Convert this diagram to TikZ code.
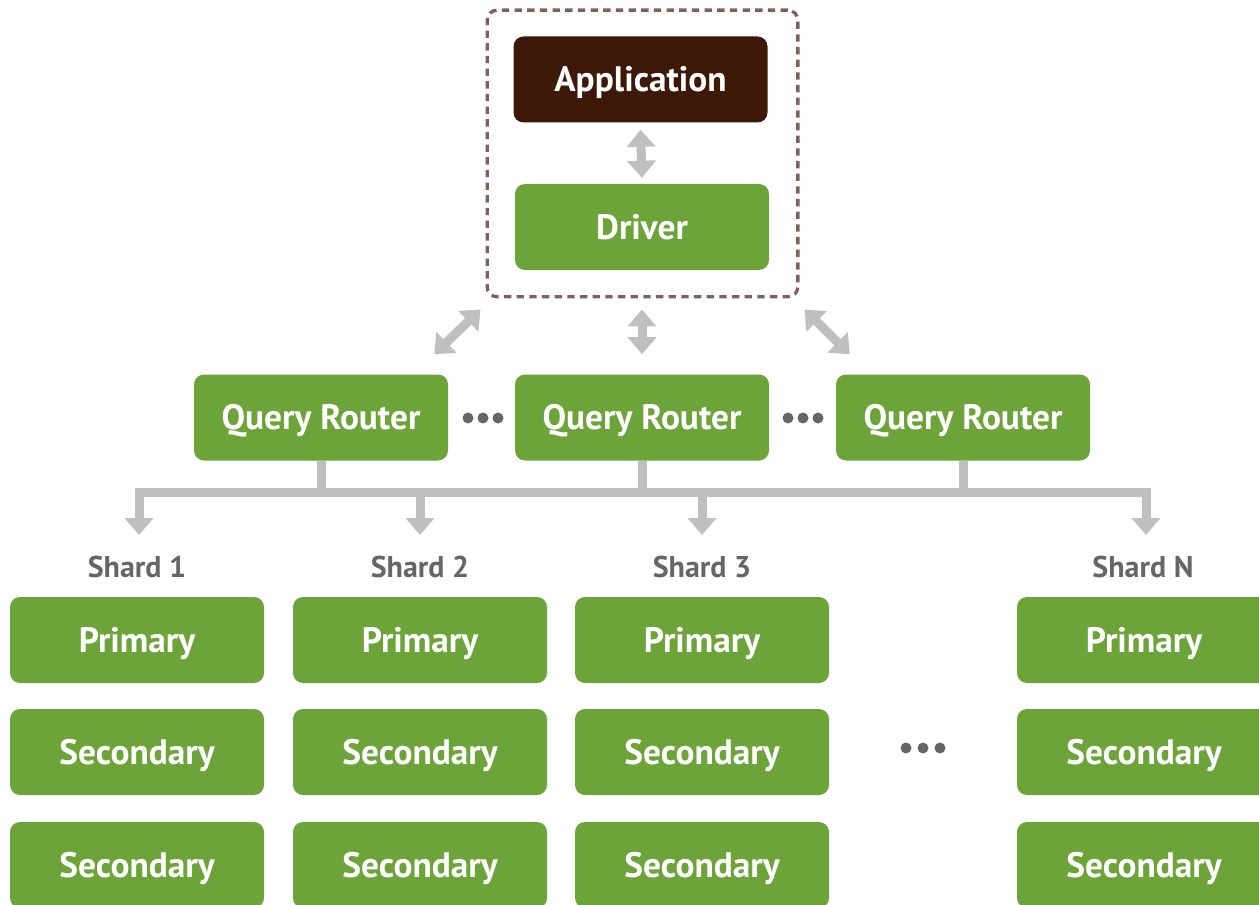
\documentclass[tikz,border=0pt]{standalone}
\usepackage{fontspec}
\setmainfont{PT Sans}
\usetikzlibrary{arrows.meta,calc}
\definecolor{grn}{HTML}{6CA43A}
\definecolor{brn}{HTML}{3D1806}
\definecolor{agray}{HTML}{C0BEC0}
\definecolor{dgray}{HTML}{666666}
\definecolor{dash}{HTML}{80615A}
\tikzset{
  box/.style={fill=grn, text=white, rounded corners=7.5pt, minimum width=190.5pt, minimum height=64.5pt, inner sep=0pt, text height=18.5pt, text depth=0pt, font=\fontsize{26.5}{30}\selectfont\bfseries},
  appbox/.style={box, fill=brn},
  grpbox/.style={draw=dash, line width=2.5pt, dash pattern=on 5.5pt off 4pt, rounded corners=7.5pt, minimum width=233pt, minimum height=215pt, inner sep=0pt},
  shardlbl/.style={text=dgray, inner sep=0pt, text height=15.75pt, text depth=0pt, font=\fontsize{22.5}{26}\selectfont\bfseries},
  tip/.tip={Triangle[width=21pt,length=12.75pt]},
  gar/.style={draw=agray, line width=6.75pt, tip-tip},
  bar/.style={draw=agray, line width=6.75pt},
  dot/.style={fill=dgray}
}
\begin{document}
\begin{tikzpicture}[x=0.75pt,y=-0.75pt]
\useasboundingbox (0,0) rectangle (1259,905);
\clip (0,0) rectangle (1259,905);
% group
\node[grpbox] (grp) at (642.5,153.5) {};
\node[appbox] (app) at (640.5,79.5) {Application};
\node[box] (drv) at (642,227) {Driver};
% routers
\node[box] (qr1) at (321,417.5) {Query Router};
\node[box] (qr2) at (642,417.5) {Query Router};
\node[box] (qr3) at (963,417.5) {Query Router};
% shard labels
\node[shardlbl] (l1) at (137,567) {Shard 1};
\node[shardlbl] (l2) at (420,567) {Shard 2};
\node[shardlbl] (l3) at (702,567) {Shard 3};
\node[shardlbl] (l4) at (1143,567) {Shard N};
% shard boxes
\foreach \c/\x in {1/137,2/420,3/702,4/1144}{
  \node[box] (p\c) at (\x,640) {Primary};
  \node[box] (sa\c) at (\x,752) {Secondary};
  \node[box] (sb\c) at (\x,865) {Secondary};
}
% arrows
\draw[gar] ($(app.south)+(0,7)$) -- ($(drv.north)+(0,-6)$);
\draw[gar] ($(grp.south west)+(-5,11)$) -- ($(qr1.north east)+(-14,-20)$);
\draw[gar] ($(qr2.north |- grp.south)+(0,11)$) -- ($(qr2.north)+(0,-20)$);
\draw[gar] ($(grp.south east)+(5,11)$) -- ($(qr3.north west)+(14,-20)$);
% tree
\coordinate (bus) at (0,492);
\draw[bar] (qr1.south) -- (qr1.south |- bus);
\draw[bar] (qr2.south) -- (qr2.south |- bus);
\draw[bar] (qr3.south) -- (qr3.south |- bus);
\draw[gar] ($(l1.center)+(2,-32)$) -- ($(l1.center |- bus)+(2,0)$) -- ($(l4.center |- bus)+(3,0)$) -- ($(l4.center)+(3,-32)$);
\draw[bar, -tip] (l2.center |- bus) -- ($(l2.center)+(0,-32)$);
\draw[bar, -tip] (l3.center |- bus) -- ($(l3.center)+(0,-32)$);
% ellipses
\foreach \x in {468,483,498}{\fill[dot] (\x,418) circle (5.5);}
\foreach \x in {788,803,818}{\fill[dot] (\x,418) circle (5.5);}
\foreach \x in {906,923,940}{\fill[dot] (\x,748) circle (5.5);}
\end{tikzpicture}
\end{document}
